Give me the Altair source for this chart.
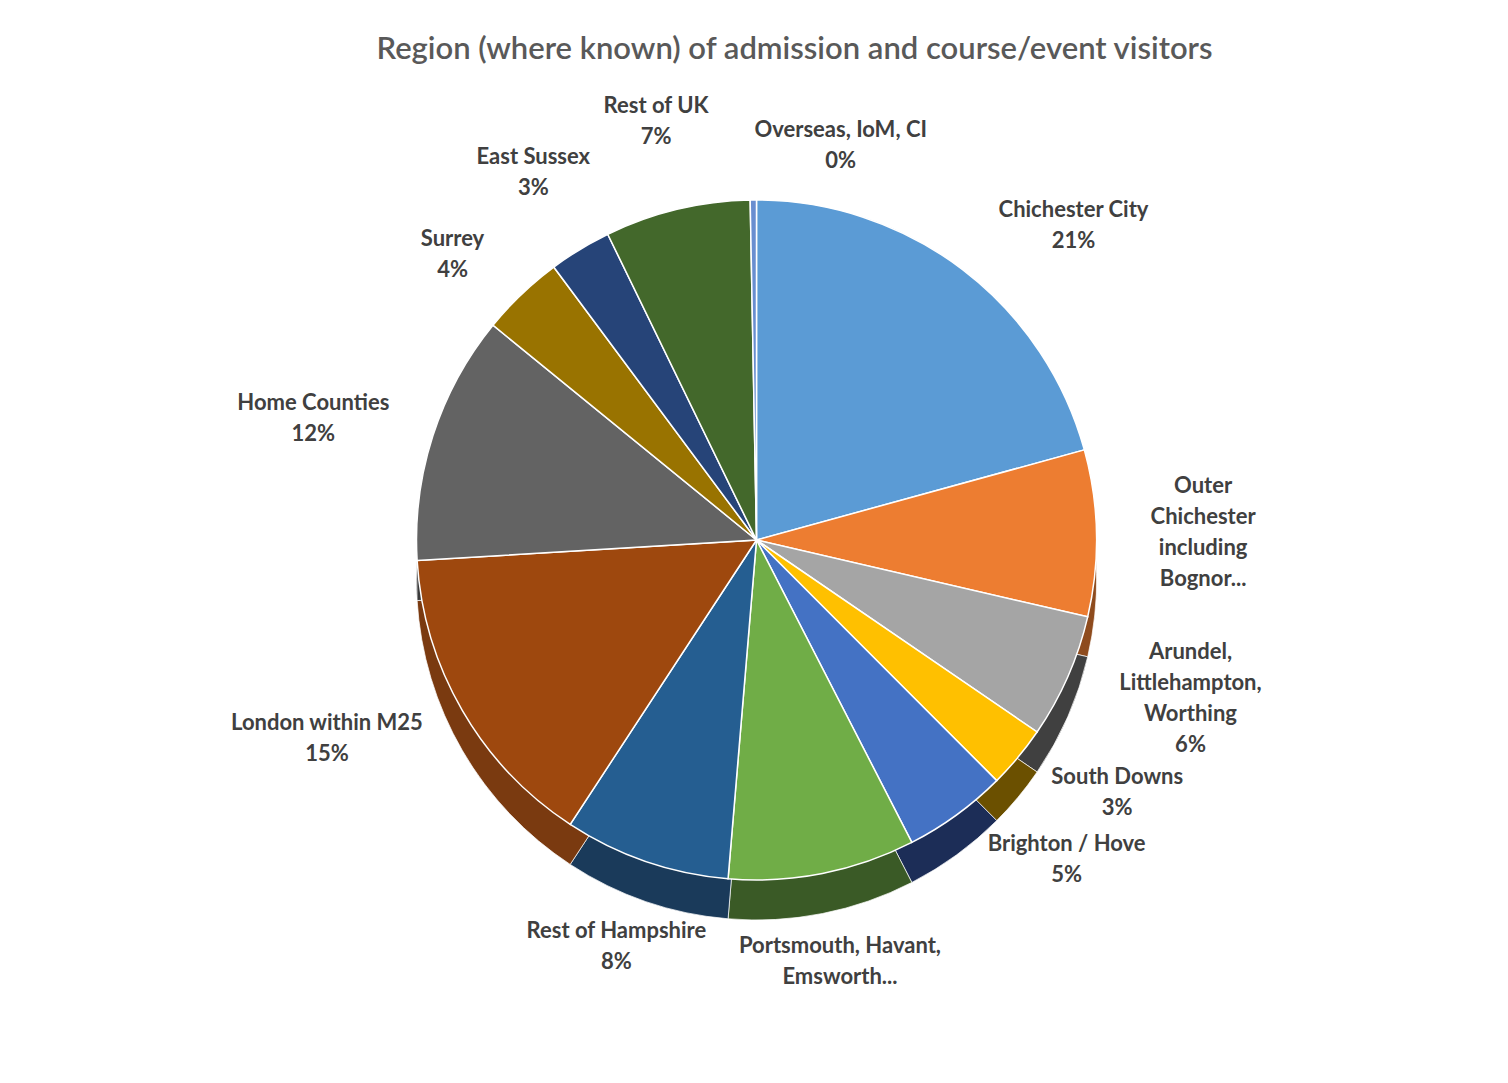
import altair as alt
import pandas as pd

# ---- data (percent of visitors, clockwise from 12 o'clock)
regions = [
    "Chichester City",
    "Outer Chichester including Bognor...",
    "Arundel, Littlehampton, Worthing",
    "South Downs",
    "Brighton / Hove",
    "Portsmouth, Havant, Emsworth...",
    "Rest of Hampshire",
    "London within M25",
    "Home Counties",
    "Surrey",
    "East Sussex",
    "Rest of UK",
    "Overseas, IoM, CI",
]
shares = [21, 8, 6, 3, 5, 9, 8, 15, 12, 4, 3, 7, 0.3]
name_text = [
    "Chichester City",
    "Outer\nChichester\nincluding\nBognor...",
    "Arundel,\nLittlehampton,\nWorthing",
    "South Downs",
    "Brighton / Hove",
    "Portsmouth, Havant,\nEmsworth...",
    "Rest of Hampshire",
    "London within M25",
    "Home Counties",
    "Surrey",
    "East Sussex",
    "Rest of UK",
    "Overseas, IoM, CI",
]
pct_text = ["21%", "", "6%", "3%", "5%", "", "8%", "15%", "12%", "4%", "3%", "7%", "0%"]

# ---- palette (top faces and darker sides)
top_colors = ["#5B9BD5", "#ED7D31", "#A5A5A5", "#FFC000", "#4472C4", "#70AD47",
              "#255E91", "#9E480E", "#636363", "#997300", "#264478", "#43682B", "#698ED0"]
side_colors = ["#37607F", "#8E4B1D", "#404040", "#6B5000", "#1C2D57", "#3A5A26",
               "#1A3A5A", "#7A3A10", "#3A3A3A", "#5C4500", "#172948", "#283E1A", "#3F557D"]

labels = [n + ("\n" + p if p else "") for n, p in zip(name_text, pct_text)]
df = pd.DataFrame({"region": regions, "share": shares, "label": labels,
                   "order": list(range(len(regions)))})

base = (
    alt.Chart(df)
    .transform_joinaggregate(total="sum(share)")
    .transform_window(cum="sum(share)", sort=[alt.SortField("order", order="ascending")],
                      frame=[None, 0])
    .transform_calculate(
        t0="(datum.cum - datum.share) / datum.total * 2 * PI",
        t1="datum.cum / datum.total * 2 * PI",
        tm="(datum.cum - datum.share / 2) / datum.total * 2 * PI",
    )
)

R = 340
DEPTH = 40
FS = 22
LH = 31
CHW = FS * 0.47  # rough average glyph width for the label font

side = base.mark_arc(outerRadius=R, yOffset=DEPTH, stroke="#ffffff", strokeWidth=1,
                     strokeOpacity=0.7).encode(
    theta=alt.Theta("t0:Q", scale=None),
    theta2="t1:Q",
    color=alt.Color("region:N", scale=alt.Scale(domain=regions, range=side_colors), legend=None),
)

top = base.mark_arc(outerRadius=R, stroke="#ffffff", strokeWidth=1.5).encode(
    theta=alt.Theta("t0:Q", scale=None),
    theta2="t1:Q",
    color=alt.Color("region:N", scale=alt.Scale(domain=regions, range=top_colors), legend=None),
)

text = (
    base.transform_calculate(
        side="(sin(datum.tm) > 0.58 || datum.tm > 6.2) ? 'L' : (sin(datum.tm) < -0.58 ? 'R' : 'C')",
        parts="split(datum.label, '\\n')",
    )
    .transform_calculate(n="length(datum.parts)")
    .transform_calculate(
        maxlen="max(length(datum.parts[0]), datum.n > 1 ? length(datum.parts[1]) : 0, "
               "datum.n > 2 ? length(datum.parts[2]) : 0, datum.n > 3 ? length(datum.parts[3]) : 0)"
    )
    .transform_calculate(
        xo=f"datum.side == 'L' ? datum.maxlen * {CHW / 2} : (datum.side == 'R' ? -datum.maxlen * {CHW / 2} : 0)",
        yo=f"-(datum.n - 1) * {LH / 2}",
        rr="datum.side == 'C' ? 430 : 395",
    )
    .mark_text(font="Lato", fontSize=FS, fontWeight="bold", color="#404040",
               lineBreak="\n", lineHeight=LH, baseline="middle", align="center")
    .encode(
        theta=alt.Theta("tm:Q", scale=None),
        radius=alt.Radius("rr:Q", scale=None),
        xOffset=alt.XOffset("xo:Q", scale=None),
        yOffset=alt.YOffset("yo:Q", scale=None),
        text="label:N",
    )
)

chart = (
    alt.layer(side, top, text)
    .resolve_scale(color="independent")
    .properties(
        width=1497,
        height=1070,
        padding={"left": 8, "top": 5, "right": 0, "bottom": 0},
        title=alt.Title(
            "Region (where known) of admission and course/event visitors",
            font="Lato", fontSize=31, fontWeight=600, color="#595959",
            anchor="middle", offset=-61, dx=38,
        ),
    )
    .configure_view(stroke="#D9D9D9", strokeWidth=1)
)

chart.save("out.html", embed_options={"renderer": "svg", "actions": False})
